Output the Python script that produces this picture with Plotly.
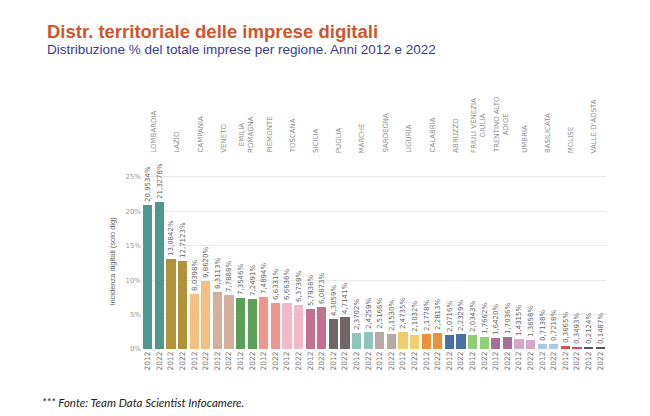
import plotly.graph_objects as go

regions = ["LOMBARDIA", "LAZIO", "CAMPANIA", "VENETO", "EMILIA<br>ROMAGNA", "PIEMONTE",
           "TOSCANA", "SICILIA", "PUGLIA", "MARCHE", "SARDEGNA", "LIGURIA", "CALABRIA",
           "ABRUZZO", "FRIULI VENEZIA<br>GIULIA", "TRENTINO ALTO<br>ADIGE", "UMBRIA",
           "BASILICATA", "MOLISE", "VALLE D'AOSTA"]
years = ["2012", "2022"]
values_2012 = [20.9534, 13.0842, 8.0398, 8.3113, 7.3546, 7.4894, 6.6636, 5.7938, 4.3059,
               2.3702, 2.5166, 2.4735, 2.1778, 2.0716, 2.0343, 1.6420, 1.4315, 0.7138,
               0.3665, 0.2124]
values_2022 = [21.3278, 12.7123, 9.8620, 7.7888, 7.2491, 6.6331, 6.3739, 6.0873, 4.7141,
               2.4259, 2.1530, 2.1032, 2.2813, 2.2329, 1.7662, 1.7036, 1.3658, 0.7218,
               0.3493, 0.1487]
region_colors = ["#4f988f", "#b09339", "#f4bf80", "#d4ae9f", "#5d9e58", "#f0948e",
                 "#f2b9c9", "#c4708f", "#716766", "#8ec6bb", "#b9a9a6", "#f1cd6c",
                 "#ec903c", "#4b70a3", "#8ecf75", "#a56e9e", "#d5a6cb", "#a9cbe6",
                 "#d6514e", "#555555"]
y_ticks = [0, 5, 10, 15, 20, 25]
y_ticktext = ["0%", "5%", "10%", "15%", "20%", "25%"]

# page body has an 8px margin: figure is 634x400 placed at (8, 8)
W, H = 634, 400
L, T = 134, 166
PW, PH = 464, 175
R, B = W - L - PW, H - T - PH
SMALL = "DejaVu Sans"


def px(X):
    return (X - 8 - L) / PW


def py(Y):
    return (T + PH + 8 - Y) / PH


xs, ys, cols, ticktext, texts = [], [], [], [], []
for i, r in enumerate(regions):
    for j, v in enumerate([values_2012[i], values_2022[i]]):
        xs.append(2 * i + j)
        ys.append(v)
        cols.append(region_colors[i])
        ticktext.append(years[j])
        texts.append(f"{v:.4f}".replace(".", ",") + "%")

fig = go.Figure(go.Bar(
    x=xs, y=ys, marker=dict(color=cols, line=dict(width=0)), width=0.78,
    text=texts, textposition="outside", textangle=-90, constraintext="none",
    cliponaxis=False, outsidetextfont=dict(size=7, color="#666666", family=SMALL),
    hoverinfo="skip"))

annotations = []
for i, r in enumerate(regions):
    annotations.append(dict(
        x=2 * i + 0.5, xref="x", y=py(155), yref="paper", yanchor="bottom", xanchor="center",
        text=r, textangle=-90, showarrow=False,
        font=dict(size=7, color="#8f8f8f", family=SMALL)))

annotations += [
    dict(x=px(40), xref="paper", y=py(402), yref="paper", xanchor="left", yanchor="middle",
         text="<i>*** Fonte: Team Data Scientist Infocamere.</i>", showarrow=False,
         font=dict(size=11.5, color="#222222", family="Lato")),
    dict(x=px(45), xref="paper", y=py(31), yref="paper", xanchor="left", yanchor="middle",
         text="<b>Distr. territoriale delle imprese digitali</b>", showarrow=False,
         font=dict(size=18.5, color="#d0552a", family="Liberation Sans")),
    dict(x=px(45), xref="paper", y=py(49.5), yref="paper", xanchor="left", yanchor="middle",
         text="Distribuzione % del totale imprese per regione. Anni 2012 e 2022",
         showarrow=False,
         font=dict(size=13.5, color="#3b3b8f", family="Liberation Sans")),
]

fig.update_layout(
    width=W, height=H,
    margin=dict(l=L, r=R, t=T, b=B, pad=0),
    paper_bgcolor="white", plot_bgcolor="white",
    showlegend=False,
    xaxis=dict(
        range=[-0.5, 39.5], tickmode="array", tickvals=xs, ticktext=ticktext,
        tickangle=-90, tickfont=dict(size=7.5, color="#777777", family=SMALL),
        showgrid=False, zeroline=False, showline=False, ticks="", automargin=False),
    yaxis=dict(
        range=[0, 25.4], tickmode="array", tickvals=y_ticks, ticktext=y_ticktext,
        tickfont=dict(size=7, color="#9a9a9a", family=SMALL),
        showgrid=True, gridcolor="#ebebeb", gridwidth=1, zeroline=False, automargin=False,
        title=dict(text="Incidenza digitali (solo dig)", standoff=8,
                   font=dict(size=7.5, color="#666666", family="Liberation Sans"))),
    annotations=annotations,
    bargap=0,
)

fig.write_html("out.html")
